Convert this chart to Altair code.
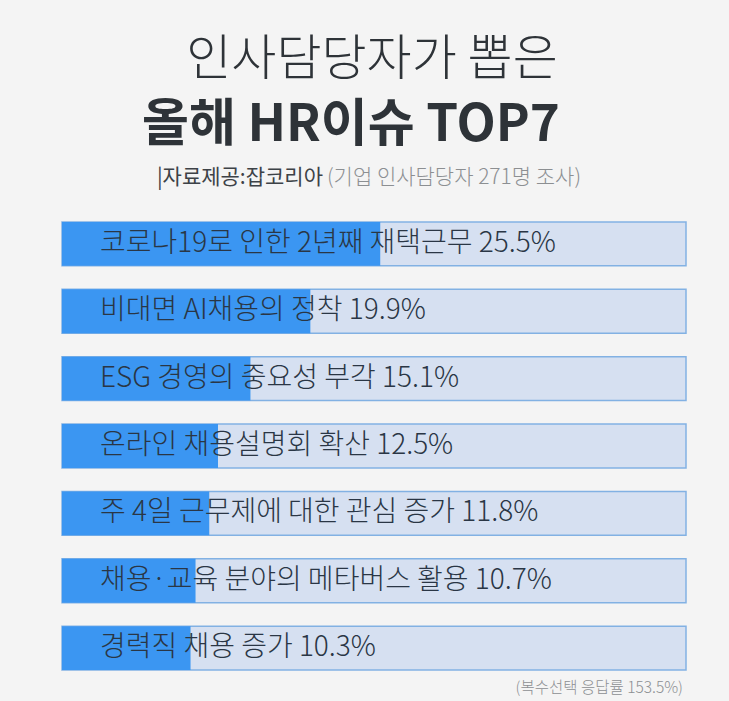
import altair as alt
import pandas as pd

issues = [
    "코로나19로 인한 2년째 재택근무",
    "비대면 AI채용의 정착",
    "ESG 경영의 중요성 부각",
    "온라인 채용설명회 확산",
    "주 4일 근무제에 대한 관심 증가",
    "채용·교육 분야의 메타버스 활용",
    "경력직 채용 증가",
]
values = [25.5, 19.9, 15.1, 12.5, 11.8, 10.7, 10.3]
title_line1 = "인사담당자가 뽑은"
title_line2 = "올해 HR이슈 TOP7"
source_a = "|자료제공:잡코리아"
source_b = "(기업 인사담당자 271명 조사)"
footnote = "(복수선택 응답률 153.5%)"
x_max = 50

df = pd.DataFrame({"issue": issues, "value": values})
df["label"] = [f"{i} {v}%" for i, v in zip(issues, values)]
df["track"] = x_max

FONT = "Noto Sans CJK KR"
W, H = 624, 448

y_enc = alt.Y("issue:N", sort=issues, axis=None,
              scale=alt.Scale(paddingInner=0.35, paddingOuter=0))
x_scale = alt.Scale(domain=[0, x_max], nice=False, zero=True)

base = alt.Chart(df)

track = base.mark_bar(color="#d6e0f1", stroke="#82b1e3", strokeWidth=1.5).encode(
    x=alt.X("track:Q", scale=x_scale, axis=None), y=y_enc)
fill = base.mark_bar(color="#3b96f2").encode(
    x=alt.X("value:Q", scale=x_scale, axis=None), y=y_enc)
labels = base.mark_text(align="left", baseline="middle", font=FONT, fontSize=28,
                        fontWeight=300, color="#2a3645").encode(
    x=alt.value(38), y=y_enc, text="label:N")

def txt(s, x, y, size, weight, color, align="center"):
    return alt.Chart(pd.DataFrame({"t": [s]})).mark_text(
        align=align, baseline="middle", font=FONT, fontSize=size,
        fontWeight=weight, color=color).encode(
        x=alt.value(x), y=alt.value(y), text="t:N")

t1 = txt(title_line1, 310, -162, 49, 300, "#2e3338")
t2 = txt(title_line2, 289, -96, 51, "bold", "#2e3338")
s1 = txt(source_a, 261, -44, 21, 400, "#3d4247", align="right")
s2 = txt(source_b, 265, -44, 21, 300, "#8c8f92", align="left")
fn = txt(footnote, 621, 466, 15.5, 300, "#8c8f92", align="right")

chart = alt.layer(track, fill, labels, t1, t2, s1, s2, fn).properties(
    width=W, height=H,
    background="#f4f4f4",
    padding={"left": 62, "top": 222, "right": 43, "bottom": 31},
    autosize=alt.AutoSizeParams(type="none"),
).configure_view(stroke=None)

chart.save("out.html", embed_options={"renderer": "svg", "actions": False})
